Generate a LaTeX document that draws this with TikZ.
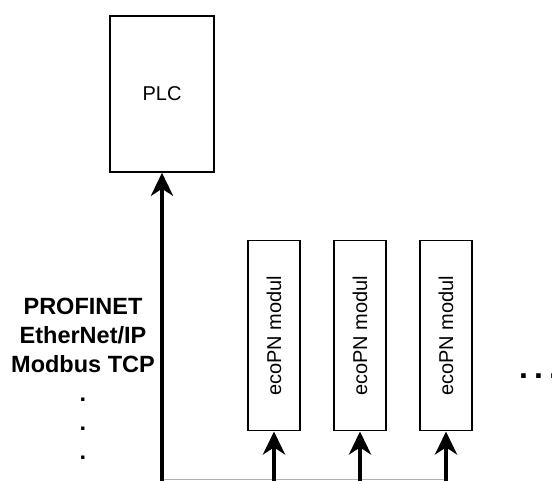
\documentclass[tikz,border=0pt]{standalone}
\usepackage{fontspec}
\setmainfont{Liberation Sans}
\usepackage{graphicx}
\usetikzlibrary{arrows.meta,positioning,calc}

\begin{document}
\begin{tikzpicture}[x=1pt,y=-1pt,
	box/.style={draw,line width=1.5pt,inner sep=0pt},
	modbox/.style={box,minimum width=52pt,minimum height=190pt,font=\fontsize{20}{24}\selectfont},
	bus/.style={line width=4pt,-{Stealth[length=23pt,width=22pt,inset=7pt]}}]
	\useasboundingbox (0,0) rectangle (552,480);
	
	% controller
	\node[box,minimum width=104pt,minimum height=156pt,font=\fontsize{20}{24}\selectfont] (plc) at (162,94) {PLC};
	
	% field modules
	\node[modbox] (m1) at (274,335.7) {\rotatebox{90}{ecoPN modul}};
	\node[modbox] (m2) at (360,335.7) {\rotatebox{90}{ecoPN modul}};
	\node[modbox] (m3) at (446,335.7) {\rotatebox{90}{ecoPN modul}};
	
	% bus feed points
	\coordinate (b0) at (162,481);
	\coordinate (b1) at (274,481);
	\coordinate (b2) at (360,481);
	\coordinate (b3) at (446,481);
	
	% thin bus line at the bottom
	\draw[gray!60,line width=1pt] (162,479) -- (446,479);
	
	% arrows
	\draw[bus] (b0) -- (plc.south);
	\draw[bus] (b1) -- (m1.south);
	\draw[bus] (b2) -- (m2.south);
	\draw[bus] (b3) -- (m3.south);
	
	\node[anchor=north,inner sep=0pt,align=center,font=\bfseries\fontsize{23.5}{29}\selectfont] (proto) at (83,297.5) {PROFINET\\EtherNet/IP\\Modbus TCP\\.\\.\\.};
	
	\node[anchor=base west,inner sep=0pt,font=\bfseries\fontsize{32}{36}\selectfont] (more) at (519,378.5) {.\kern6.1pt.\kern6.1pt.};
\end{tikzpicture}
\end{document}
